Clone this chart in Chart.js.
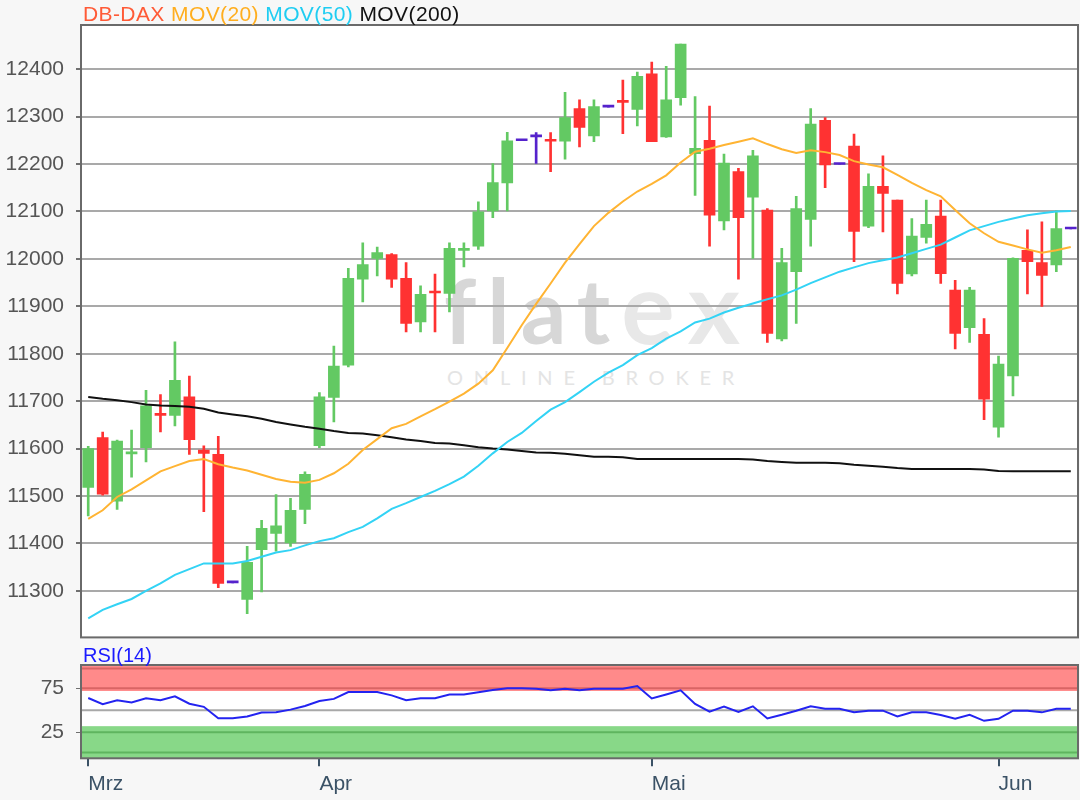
<!DOCTYPE html>
<html>
<head>
<meta charset="utf-8">
<script src="https://cdn.jsdelivr.net/npm/chart.js@4.4.1/dist/chart.umd.min.js"></script>
<style>
  body { margin: 0; background: #f7f7f7; font-family: "Liberation Sans", Arial, sans-serif; }
  #page { position: relative; width: 1080px; height: 800px; overflow: hidden; }
  .plotbg { position: absolute; background: #fff; }
  canvas { position: absolute; left: 0; }
  .title { position: absolute; font-size: 21px; line-height: 21px; letter-spacing: 0.4px; white-space: nowrap; }
  .wm { position: absolute; white-space: nowrap; }
</style>
</head>
<body>
<div id="page">
  <div class="plotbg" style="left:81px;top:25px;width:997px;height:612px"></div>
  <div class="plotbg" style="left:81px;top:665px;width:997px;height:93px"></div>
  <div class="wm" style="left:444px;top:260px;font:700 90px/90px Lato, sans-serif;letter-spacing:11px"><span style="color:#d7d7d7">flat</span><span style="color:#e8e8e8;font-size:100px;letter-spacing:14px">ex</span></div>
  <div class="wm" style="left:447px;top:367px;font:400 20px/20px Lato, sans-serif;letter-spacing:10.8px;color:#e4e4e4">ONLINE BROKER</div>
  <canvas id="mainChart" width="1080" height="662" style="top:0"></canvas>
  <canvas id="rsiChart" width="1080" height="160" style="top:640px"></canvas>
  <div class="title" style="left:83px;top:3px">
    <span style="color:#ff5a36">DB-DAX</span>
    <span style="color:#ffae1f">MOV(20)</span>
    <span style="color:#1fcdf2">MOV(50)</span>
    <span style="color:#111">MOV(200)</span>
  </div>
  <div class="title" style="left:83px;top:645px;font-size:20px;line-height:20px;letter-spacing:0;color:#1a1aff">RSI(14)</div>
</div>
<script>
// daily candles, DB-DAX (Mar - Jun)
var open = [11518, 11623, 11489, 11589, 11602, 11673, 11670, 11709, 11597, 11588,
            11317, 11282, 11387, 11421, 11401, 11472, 11606, 11708, 11776, 11957,
            12001, 12009, 11959, 11867, 11931, 11927, 12018, 12027, 12101, 12160,
            12249, 12257, 12250, 12248, 12317, 12259, 12320, 12332, 12315, 12390,
            12257, 12340, 12222, 12250, 12080, 12184, 12130, 12103, 11831, 11973,
            12083, 12292, 12199, 12238, 12069, 12153, 12124, 11968, 12045, 12090,
            11934, 11855, 11841, 11645, 11753, 12018, 11992, 11987, 12063];
var high = [11605, 11635, 11618, 11639, 11723, 11714, 11825, 11753, 11606, 11626,
            11317, 11394, 11449, 11503, 11495, 11551, 11718, 11816, 11980, 12034,
            12025, 12011, 11992, 11943, 11968, 12034, 12034, 12120, 12201, 12267,
            12249, 12266, 12266, 12351, 12335, 12335, 12320, 12377, 12394, 12415,
            12406, 12453, 12342, 12322, 12221, 12191, 12229, 12106, 12022, 12132,
            12317, 12298, 12199, 12263, 12179, 12217, 12124, 12085, 12124, 12124,
            11955, 11940, 11874, 11795, 12002, 12061, 12078, 12101, 12063];
var low = [11458, 11502, 11472, 11540, 11572, 11635, 11648, 11588, 11467, 11307,
           11317, 11252, 11298, 11384, 11394, 11442, 11602, 11656, 11772, 11909,
           11964, 11940, 11846, 11846, 11846, 11888, 11983, 12020, 12087, 12101,
           12249, 12201, 12184, 12210, 12236, 12247, 12320, 12264, 12280, 12247,
           12256, 12324, 12134, 12027, 12061, 11957, 12001, 11824, 11827, 11864,
           12027, 12150, 12199, 11994, 12066, 12057, 11926, 11964, 12033, 11948,
           11810, 11824, 11661, 11624, 11711, 11926, 11900, 11973, 12063];
var close = [11600, 11504, 11616, 11592, 11690, 11670, 11744, 11619, 11590, 11316,
             11317, 11360, 11432, 11437, 11470, 11546, 11709, 11774, 11959, 11988,
             12013, 11957, 11864, 11925, 11928, 12022, 12022, 12099, 12161, 12249,
             12249, 12257, 12248, 12298, 12277, 12321, 12320, 12330, 12385, 12247,
             12335, 12453, 12233, 12092, 12202, 12087, 12217, 11843, 11992, 12106,
             12284, 12198, 12199, 12058, 12153, 12138, 11948, 12048, 12073, 11969,
             11843, 11934, 11704, 11778, 12001, 11994, 11965, 12064, 12063];

var mov20 = [11452, 11470, 11498, 11514, 11533, 11552, 11563, 11574, 11578, 11567,
             11560, 11554, 11545, 11536, 11530, 11528, 11534, 11548, 11568, 11597,
             11620, 11643, 11652, 11668, 11683, 11699, 11716, 11737, 11765, 11812,
             11860, 11905, 11948, 11992, 12031, 12069, 12097, 12121, 12142, 12158,
             12176, 12203, 12226, 12232, 12240, 12247, 12254, 12242, 12231, 12223,
             12229, 12225, 12219, 12206, 12199, 12193, 12177, 12160, 12145, 12132,
             12103, 12075, 12054, 12036, 12028, 12020, 12013, 12018, 12025];
var mov50 = [11242, 11260, 11272, 11283, 11300, 11316, 11334, 11346, 11358, 11358,
             11358, 11363, 11372, 11381, 11386, 11396, 11405, 11411, 11424, 11435,
             11453, 11473, 11485, 11498, 11511, 11525, 11541, 11564, 11590, 11614,
             11633, 11658, 11682, 11698, 11719, 11741, 11760, 11776, 11797, 11812,
             11832, 11847, 11866, 11874, 11887, 11897, 11906, 11915, 11923, 11935,
             11949, 11961, 11973, 11982, 11991, 11997, 12003, 12012, 12021, 12030,
             12045, 12060, 12069, 12078, 12085, 12092, 12096, 12100, 12101];
var mov200 = [11709, 11705, 11702, 11698, 11693, 11691, 11690, 11688, 11684, 11676,
              11672, 11668, 11663, 11656, 11651, 11646, 11642, 11637, 11633, 11632,
              11628, 11624, 11619, 11616, 11612, 11611, 11607, 11603, 11600, 11598,
              11595, 11592, 11591, 11589, 11586, 11583, 11583, 11582, 11578, 11578,
              11578, 11578, 11578, 11578, 11578, 11578, 11577, 11574, 11572, 11570,
              11570, 11570, 11569, 11566, 11564, 11562, 11559, 11557, 11557, 11557,
              11557, 11557, 11556, 11553, 11552, 11552, 11552, 11552, 11552];
var rsi14 = [64, 57, 61.5, 59, 63.8, 61.5, 66, 57.5, 54, 41,
             41, 43, 47.5, 47.7, 50.8, 55, 60.5, 63, 70.8, 70.8,
             70.8, 67, 61.5, 63.8, 63.8, 68, 68, 70.5, 73, 75,
             75, 74.6, 72.7, 74.6, 72.7, 74.6, 74.6, 74.6, 77.7, 63.5,
             68, 72.7, 57.3, 48.5, 54.2, 48.1, 54.6, 40.8, 45, 49.6,
             54.6, 51.9, 51.9, 47.8, 49.6, 49.6, 43, 47.7, 47.7, 44.6,
             40.4, 45, 38.1, 40.4, 49.6, 49.6, 47.7, 51.9, 51.9];

var priceTicks = [11300, 11400, 11500, 11600, 11700, 11800, 11900, 12000, 12100, 12200, 12300, 12400];
var monthLabels = ["Mrz", "Apr", "Mai", "Jun"];
var monthIndex = [0, 16, 39, 63];
var rsiTicks = [25, 75];
var rsiBands = [
    { from: 72, to: 101.5, color: "#ff8a8a" },
    { from: -4.5, to: 32, color: "#88d888" }
];
var rsiLines = [
    { value: 97.5, color: "#d96464" },
    { value: 75, color: "#d96464" },
    { value: 50, color: "#a8a8a8" },
    { value: 25, color: "#5fb55f" },
    { value: 2, color: "#5fb55f" }
];

var categories = open.map(function (v, i) { return "T" + (i + 1); });
var bodies = open.map(function (o, i) { return [o, close[i]]; });
var wicks = low.map(function (l, i) { return [l, high[i]]; });
var candleColors = open.map(function (o, i) {
    if (close[i] > o) return "#63c963";
    if (close[i] < o) return "#ff3232";
    return "#5522cc";
});

Chart.defaults.font.family = '"Liberation Sans", Arial, sans-serif';
Chart.defaults.animation = false;

var framePlugin = {
    id: "frame",
    afterDraw: function (chart) {
        var a = chart.chartArea, ctx = chart.ctx;
        ctx.save();
        ctx.strokeStyle = "#6a6a6a";
        ctx.lineWidth = 2;
        ctx.strokeRect(a.left, a.top, a.right - a.left, a.bottom - a.top);
        ctx.restore();
    }
};

var bandsPlugin = {
    id: "bands",
    beforeDatasetsDraw: function (chart) {
        var a = chart.chartArea, ctx = chart.ctx, y = chart.scales.y;
        ctx.save();
        rsiBands.forEach(function (b) {
            var y1 = y.getPixelForValue(b.to), y2 = y.getPixelForValue(b.from);
            ctx.fillStyle = b.color;
            ctx.fillRect(a.left, y1, a.right - a.left, y2 - y1);
        });
        ctx.lineWidth = 2;
        rsiLines.forEach(function (l) {
            var py = y.getPixelForValue(l.value);
            ctx.strokeStyle = l.color;
            ctx.beginPath();
            ctx.moveTo(a.left, py);
            ctx.lineTo(a.right, py);
            ctx.stroke();
        });
        ctx.restore();
    }
};

function lineSet(data, color, order) {
    return { type: "line", data: data, borderColor: color, borderWidth: 2,
             pointRadius: 0, tension: 0, fill: false, order: order };
}

new Chart(document.getElementById("mainChart"), {
    type: "bar",
    data: {
        labels: categories,
        datasets: [
            lineSet(mov200, "#111111", 3),
            lineSet(mov50, "#33d3f5", 2),
            lineSet(mov20, "#ffb433", 1),
            { data: bodies, backgroundColor: candleColors, barThickness: 11, minBarLength: 2,
              grouped: false, borderWidth: 0, order: 4 },
            { data: wicks, backgroundColor: candleColors, barThickness: 2,
              grouped: false, borderWidth: 0, order: 5 }
        ]
    },
    options: {
        responsive: false,
        layout: { padding: { top: 25, right: 2, bottom: 0, left: 0 } },
        plugins: { legend: { display: false }, tooltip: { enabled: false } },
        scales: {
            x: { display: false, offset: true, grid: { display: false } },
            y: {
                min: 11202, max: 12493,
                afterFit: function (s) { s.width = 81; },
                afterBuildTicks: function (s) { s.ticks = priceTicks.map(function (v) { return { value: v }; }); },
                border: { display: false },
                grid: { color: "#a9a9a9", lineWidth: 2, tickLength: 5, tickColor: "#707070" },
                ticks: { color: "#555", padding: 12, font: { size: 21 },
                         callback: function (v) { return String(v); } }
            }
        }
    },
    plugins: [framePlugin]
});

new Chart(document.getElementById("rsiChart"), {
    type: "line",
    data: {
        labels: categories,
        datasets: [{ data: rsi14, borderColor: "#2323f0", borderWidth: 2, pointRadius: 0, tension: 0, fill: false }]
    },
    options: {
        responsive: false,
        layout: { padding: { top: 25, right: 2, bottom: 0, left: 0 } },
        plugins: { legend: { display: false }, tooltip: { enabled: false } },
        scales: {
            x: {
                offset: true,
                afterFit: function (s) { s.height = 41.7; },
                border: { display: false },
                grid: {
                    drawOnChartArea: false, tickLength: 8, lineWidth: 2,
                    color: function (c) { return c.tick && c.tick.label ? "#3b5266" : "rgba(0,0,0,0)"; }
                },
                ticks: {
                    autoSkip: false, maxRotation: 0, align: "start", padding: 5,
                    color: "#3b5266", font: { size: 21 },
                    callback: function (v, i) {
                        var k = monthIndex.indexOf(i);
                        return k >= 0 ? monthLabels[k] : "";
                    }
                }
            },
            y: {
                min: -4.5, max: 101.5,
                afterFit: function (s) { s.width = 81; },
                afterBuildTicks: function (s) { s.ticks = rsiTicks.map(function (v) { return { value: v }; }); },
                border: { display: false },
                grid: { drawOnChartArea: false, tickLength: 5, tickColor: "#707070" },
                ticks: { color: "#555", padding: 12, font: { size: 21 } }
            }
        }
    },
    plugins: [bandsPlugin, framePlugin]
});
</script>
</body>
</html>
